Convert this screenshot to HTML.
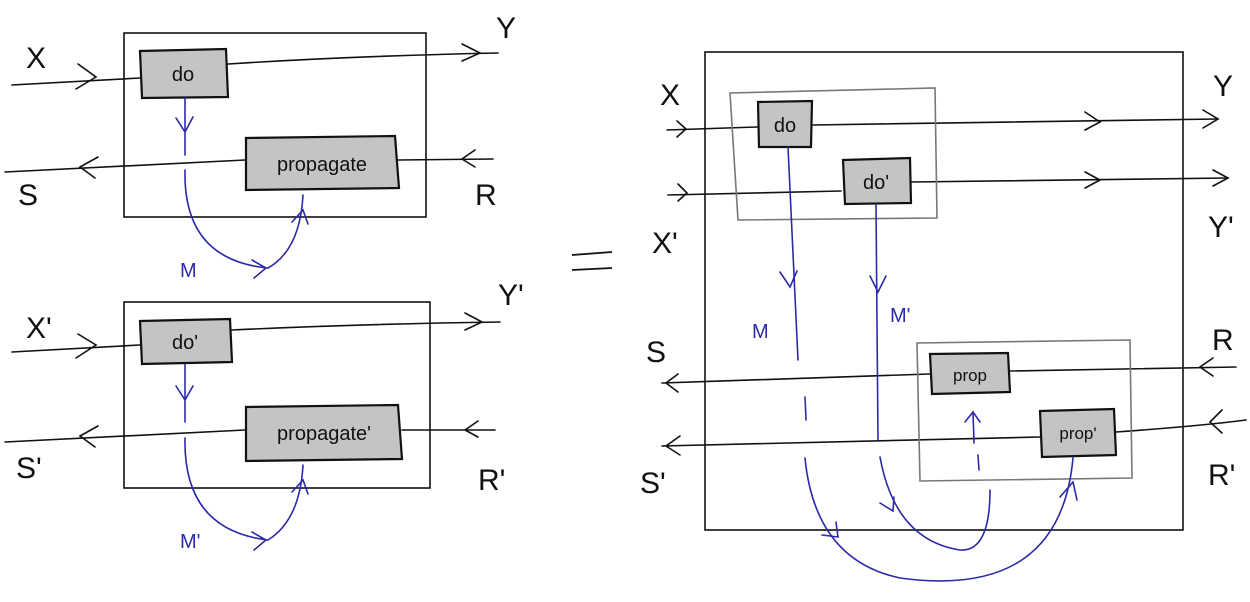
<!DOCTYPE html>
<html><head><meta charset="utf-8"><style>
html,body{margin:0;padding:0;background:#fff;}
svg{display:block;}
text{font-family:"Liberation Sans",sans-serif;}
</style></head><body>
<svg width="1250" height="602" viewBox="0 0 1250 602" xmlns="http://www.w3.org/2000/svg">
<g fill="none" stroke="#111" stroke-width="1.6" stroke-linecap="round">
<!-- LEFT TOP -->
<rect x="124" y="33" width="302" height="184"/>
<path d="M12 85 L140 78"/><path d="M78 64 L96 77 L76 89"/>
<path d="M228 64 Q350 56 498 53"/><path d="M462 44 L480 53 L462 61"/>
<path d="M5 172 L245 160"/><path d="M98 157 L80 167 L95 178"/>
<path d="M398 160 L493 159"/><path d="M475 150 L462 159 L475 167"/>
<!-- LEFT BOTTOM -->
<rect x="124" y="302" width="306" height="186"/>
<path d="M12 352 L140 345"/><path d="M78 334 L96 345 L76 358"/>
<path d="M232 330 Q360 324 500 322"/><path d="M465 313 L482 322 L465 330"/>
<path d="M5 442 L245 430"/><path d="M98 426 L80 436 L95 447"/>
<path d="M402 430 L495 430"/><path d="M478 421 L465 430 L478 437"/>
<!-- RIGHT -->
<rect x="705" y="52" width="478" height="478"/>
<path d="M667 130 L757 127"/><path d="M677 121 L686 129 L677 137"/>
<path d="M812 125 Q1000 122 1218 119"/><path d="M1085 112 L1100 122 L1085 130"/><path d="M1203 110 L1218 119 L1203 128"/>
<path d="M668 195 L841 191"/><path d="M678 184 L687 193 L678 201"/>
<path d="M911 182 Q1050 180 1228 178"/><path d="M1085 172 L1100 180 L1085 188"/><path d="M1213 170 L1228 178 L1213 186"/>
<path d="M662 383 L930 374"/><path d="M678 374 L666 383 L678 392"/>
<path d="M1010 371 L1236 367"/><path d="M1213 358 L1200 367 L1213 376"/>
<path d="M662 446 L1040 437"/><path d="M680 436 L666 446 L680 455"/>
<path d="M1116 432 Q1200 426 1246 420"/><path d="M1222 410 L1210 422 L1222 433"/>
</g>
<g fill="none" stroke="#777" stroke-width="1.6">
<path d="M730 93 L935 88 L937 218 L738 220 Z"/>
<path d="M917 343 L1130 340 L1132 478 L920 481 Z"/>
</g>
<!-- gray boxes -->
<g fill="#c4c4c4" stroke="#111" stroke-width="2.2">
<path d="M140 51 L226 49 L228 97 L142 98 Z"/>
<path d="M246 138 L395 136 L399 188 L246 190 Z"/>
<path d="M140 321 L230 319 L232 362 L142 364 Z"/>
<path d="M246 407 L398 405 L402 459 L246 461 Z"/>
<path d="M758 102 L812 101 L811 147 L759 147 Z"/>
<path d="M843 160 L910 158 L911 203 L845 204 Z"/>
<path d="M930 354 L1008 353 L1010 392 L932 394 Z"/>
<path d="M1040 411 L1114 409 L1116 455 L1042 457 Z"/>
</g>
<!-- blue -->
<g fill="none" stroke="#2a2aa8" stroke-width="1.6" stroke-linecap="round">
<path d="M185 98 L185 155"/><path d="M176 118 L185 132 L193 117"/>
<path d="M185 170 Q183 260 268 268 Q300 250 303 195"/><path d="M252 260 L266 268 L254 278"/><path d="M292 222 L303 210 L308 224"/>
<path d="M185 364 L185 422"/><path d="M176 386 L185 400 L193 386"/>
<path d="M185 438 Q183 530 268 540 Q300 520 303 465"/><path d="M252 532 L266 540 L254 550"/><path d="M292 492 L303 480 L308 494"/>
<path d="M788 147 L798 360"/><path d="M780 272 L790 287 L797 271"/>
<path d="M805 397 L806 420"/>
<path d="M805 458 Q815 560 900 578 Q1060 600 1073 458"/><path d="M822 535 L838 537 L836 522"/><path d="M1060 497 L1073 482 L1077 500"/>
<path d="M876 204 L878 440"/><path d="M870 276 L878 292 L886 276"/>
<path d="M880 457 Q895 540 960 550 Q990 552 990 490"/><path d="M880 503 L893 511 L894 497"/>
<path d="M973 412 L974 443"/><path d="M965 422 L973 412 L980 422"/>
<path d="M978 455 L979 470"/>
</g>
<!-- equals -->
<g stroke="#111" stroke-width="1.8"><path d="M572 255 L612 252"/><path d="M572 270 L612 268"/></g>
<!-- labels -->
<g fill="#111" font-size="30">
<text x="26" y="68">X</text><text x="496" y="38">Y</text><text x="18" y="205">S</text><text x="475" y="205">R</text>
<text x="26" y="338">X'</text><text x="498" y="305">Y'</text><text x="16" y="478">S'</text><text x="478" y="490">R'</text>
<text x="660" y="105">X</text><text x="1213" y="96">Y</text><text x="652" y="253">X'</text><text x="1208" y="237">Y'</text>
<text x="646" y="362">S</text><text x="1212" y="350">R</text><text x="640" y="493">S'</text><text x="1208" y="485">R'</text>
</g>
<g fill="#111" font-size="20" text-anchor="middle">
<text x="183" y="81">do</text><text x="322" y="171">propagate</text>
<text x="185" y="349">do'</text><text x="324" y="440">propagate'</text>
<text x="785" y="132">do</text><text x="876" y="189">do'</text>
<text x="970" y="381" font-size="17">prop</text><text x="1078" y="439" font-size="17">prop'</text>
</g>
<g fill="#2a2aa8" font-size="20">
<text x="180" y="277">M</text><text x="180" y="548">M'</text>
<text x="752" y="338">M</text><text x="890" y="322">M'</text>
</g>
</svg>
</body></html>
